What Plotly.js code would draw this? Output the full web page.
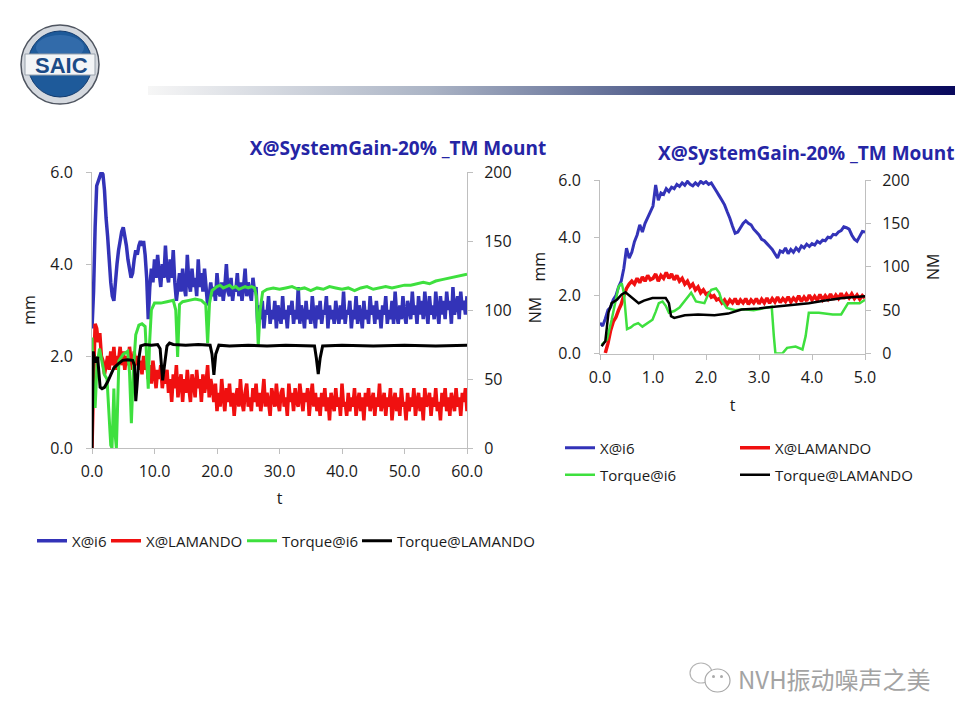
<!DOCTYPE html>
<html>
<head>
<meta charset="utf-8">
<script src="https://cdn.plot.ly/plotly-3.0.1.min.js"></script>
<style>html,body{margin:0;padding:0;background:#fff;}#chart{width:960px;height:720px;}</style>
</head>
<body>
<div id="chart"></div>
<script>
// ---------- DATA ----------
const seriesNames = ['X@i6', 'X@LAMANDO', 'Torque@i6', 'Torque@LAMANDO'];
const chartTitle = 'X@SystemGain-20% _TM Mount';
const watermarkText = 'NVH振动噪声之美';
const logoText = 'SAIC';

const leftTTicks = [0, 10, 20, 30, 40, 50, 60];
const rightTTicks = [0, 1, 2, 3, 4, 5];
const mmTicks = [0, 2, 4, 6];
const nmTicks = [0, 50, 100, 150, 200];

// Left chart: sampled every 0.25 s from t = 0
const leftSampleStart = 0;
const leftSampleStep = 0.25;
const leftXi6 = [
 2.6,3.4,4.8,5.7,5.8,5.9,6.0,5.95,5.6,5.0,4.6,4.1,3.6,3.3,3.2,3.6,4.0,4.3,4.5,4.7,
 4.8,4.6,4.4,4.1,3.9,3.7,3.8,4.1,4.3,4.2,4.4,4.5,4.4,4.5,4.2,3.7,2.8,3.5,
 3.9,3.6,4.1,3.7,4.2,3.8,3.5,4.0,3.7,4.4,3.8,3.6,4.1,3.7,4.3,3.6,
 3.2,3.5,3.8,3.4,3.9,3.5,3.3,4.2,3.6,3.4,3.9,3.5,3.7,3.3,4.1,3.5,3.8,3.4,3.9,3.5,
 3.1,3.3,
 3.6,3.3,3.5,3.2,3.8,3.4,3.3,3.6,3.2,3.5,4.0,3.4,3.3,3.7,3.2,3.5,3.4,3.8,3.3,3.6,
 3.2,3.5,3.9,3.3,3.6,3.4,3.2,3.7,3.4,3.5,
 2.7,3.1,2.8,3.2,2.6,3.0,2.9,3.3,2.7,3.0,
 2.8,3.2,2.6,3.1,2.9,2.7,3.3,2.8,3.0,2.6,
 3.1,2.9,3.2,2.7,3.0,2.8,3.5,2.7,3.1,2.9,
 2.6,3.2,2.8,3.0,2.7,3.3,2.9,2.6,3.1,2.8,
 3.2,2.7,3.0,2.9,3.3,2.6,3.1,2.8,3.0,2.7,
 3.2,2.9,2.7,3.1,2.8,3.4,2.7,3.0,2.9,3.2,
 2.6,3.0,2.8,3.3,2.7,3.1,2.9,2.6,3.2,2.8,
 3.0,2.7,3.3,2.9,3.1,2.7,3.2,2.8,3.0,2.6,
 3.1,2.9,3.3,2.7,3.0,2.8,3.2,2.7,3.4,2.9,
 2.7,3.1,2.8,3.3,2.9,2.7,3.2,3.0,2.8,3.4,
 2.9,3.1,2.7,3.3,2.9,3.2,2.8,3.4,3.0,2.7,
 3.3,2.9,3.1,2.8,3.4,3.0,2.7,3.3,2.9,3.2,
 2.8,3.4,3.0,3.2,2.7,3.5,2.9,3.1,3.3,2.8,
 3.4,3.0,3.2,2.9,3.3
];
const leftXLamando = [
 0.0,1.5,2.7,2.6,2.3,2.5,2.0,1.9,1.6,1.8,
 2.0,1.7,2.1,1.8,2.2,1.7,2.0,1.9,2.2,1.8,
 2.1,1.7,2.0,1.8,2.2,1.9,1.7,2.1,1.8,2.0,
 1.7,1.9,1.6,2.0,1.7,1.9,
 1.5,1.8,1.4,1.9,1.6,1.3,1.7,1.5,1.8,1.3,1.6,1.4,
 1.7,1.2,1.5,1.0,1.6,1.3,1.8,1.1,1.4,1.6,1.0,1.5,1.2,1.7,1.3,1.0,1.6,1.4,1.1,1.7,
 1.3,1.5,1.0,1.6,1.2,1.4,1.8,1.1,1.5,1.3,
 1.0,1.4,0.8,1.2,0.9,1.5,1.1,0.8,1.3,1.0,
 1.4,0.9,1.2,0.7,1.1,1.3,0.9,1.5,1.0,0.8,
 1.2,1.4,0.9,1.1,0.8,1.3,1.0,1.4,0.9,1.2,
 0.8,1.1,1.5,0.9,1.2,1.0,0.7,1.3,1.1,0.9,
 1.4,1.0,0.8,1.2,1.3,0.9,1.1,0.7,1.4,1.0,
 1.2,0.8,1.3,1.0,0.9,1.4,1.1,0.8,1.2,1.0,
 1.3,0.7,1.1,1.4,0.9,1.2,0.8,1.1,
 0.7,1.2,0.9,1.3,0.8,1.1,0.6,1.2,1.0,0.8,
 1.3,0.9,1.1,0.7,1.4,0.9,1.0,0.7,1.2,0.8,
 1.1,0.9,1.3,0.7,1.0,1.2,0.8,1.1,0.6,1.2,
 0.9,1.3,0.8,1.0,1.2,0.7,1.1,0.9,1.4,0.8,
 1.0,1.2,0.7,1.1,0.9,1.3,0.6,1.0,1.2,0.8,
 1.1,0.7,1.3,0.9,1.0,0.6,1.2,0.8,1.1,0.9,
 1.3,0.7,1.0,1.2,0.8,1.1,0.6,1.3,0.9,1.0,
 1.2,0.7,1.1,0.9,1.3,0.8,1.0,0.6,1.2,0.9,
 1.3,0.8,1.1,0.7,1.2,1.0,0.8,1.3,0.9,1.1,
 0.7,1.2,1.0,1.3,0.8
];
const leftTorqueI6T = [0,0.2,0.5,0.8,1.2,1.6,2.0,2.4,2.8,3.0,3.2,3.5,3.7,3.9,4.3,5.0,5.7,6.0,6.3,6.6,
 7.0,7.5,8.0,8.5,8.8,9.0,9.2,9.5,10.0,11.0,12.0,13.0,13.4,13.7,14.0,14.5,15.5,16.5,17.5,18.2,
 18.5,18.8,19.2,20.0,20.5,21.0,21.5,22.0,22.5,23.0,23.5,24.0,24.5,25.0,25.5,26.0,26.3,26.6,26.9,27.3,
 28,29,30,31,32,33,34,35,36,37,38,39,40,41,42,43,44,45,46,47,48,49,50,51,52,53,54,55,56,57,58,59,60];
const leftTorqueI6 = [80,45,29,60,72,62,53,50,20,2,0,43,10,0,63,68,70,55,18,55,
 82,89,90,88,60,43,75,100,105,105,106,107,100,66,104,106,107,108,107,104,
 76,105,114,117,118,116,117,118,116,117,115,116,117,116,117,116,110,74,100,113,
 115,116,115,116,117,115,116,114,116,115,117,116,115,116,114,116,117,115,116,117,
 116,117,118,118,119,120,119,121,122,123,124,125,126];
const leftTorqueLamT = [0,0.1,0.2,0.5,0.9,1.1,1.3,1.6,2.0,2.5,3.0,3.5,4.2,4.9,5.7,6.5,6.8,7.0,7.2,7.5,
 7.8,8.5,9.5,10.5,10.9,11.3,11.6,12.0,12.4,13.0,15,17,18.9,19.2,19.5,19.8,20.3,22,25,28,
 31,34,35.6,35.9,36.2,36.5,36.9,40,45,50,55,60];
const leftTorqueLam = [0,40,70,62,66,55,44,43,44,48,53,58,61,63.5,64,63.5,60,34,45,65,
 74,75,74.5,75,72,49,60,74,76,75,74.5,75,74.5,68,53,68,74.5,74,74.5,74,
 74.5,74,74,65,53.5,65,74,74.5,74,74.5,74,74.5];

// Right chart (zoom 0-5 s): X series sampled every 0.05 s
const rightXi6Start = 0;
const rightXi6Step = 0.05;
const rightXi6 = [1.06,0.95,1.2,1.5,1.6,1.86,2.0,2.3,2.5,2.95,
 3.64,3.3,3.5,3.87,4.1,4.45,4.2,4.5,4.7,4.9,
 5.1,5.83,5.3,5.55,5.5,5.7,5.6,5.75,5.7,5.85,
 5.78,5.9,5.82,5.95,5.85,5.8,5.9,5.82,5.95,5.88,
 5.94,5.85,5.9,5.75,5.6,5.45,5.3,5.14,4.9,4.68,
 4.4,4.16,4.2,4.35,4.5,4.59,4.5,4.45,4.3,4.2,
 4.1,3.95,3.9,3.8,3.7,3.6,3.45,3.3,3.55,3.5,
 3.65,3.45,3.6,3.5,3.65,3.55,3.72,3.65,3.78,3.7,
 3.8,3.75,3.88,3.82,3.92,3.9,4.02,4.0,4.12,4.1,
 4.2,4.25,4.38,4.35,4.3,4.1,3.95,3.88,4.05,4.22,
 4.2];
const rightXLamStart = 0.1;
const rightXLamStep = 0.05;
const rightXLamando = [0.02,0.35,0.8,1.1,1.25,1.5,1.7,2.0,2.25,2.4,
 2.5,2.4,2.6,2.45,2.65,2.5,2.7,2.55,2.6,2.75,
 2.5,2.7,2.6,2.8,2.6,2.75,2.55,2.7,2.5,2.6,
 2.4,2.5,2.3,2.4,2.2,2.3,2.1,2.2,2.05,2.1,
 1.95,2.0,1.85,1.9,1.75,1.85,1.7,1.85,1.75,1.9,
 1.7,1.85,1.75,1.9,1.7,1.85,1.75,1.9,1.72,1.88,
 1.75,1.92,1.74,1.9,1.78,1.95,1.76,1.9,1.8,1.96,
 1.78,1.92,1.82,2.0,1.8,1.95,1.82,2.02,1.85,1.98,
 1.84,2.04,1.86,2.0,1.88,2.06,1.87,2.02,1.9,2.08,
 1.9,2.05,1.92,2.06,1.9,2.02,1.88,2.0,1.92];
const rightTorqueI6T = [0.03,0.13,0.22,0.29,0.35,0.41,0.45,0.51,0.58,0.64,0.72,0.8,0.89,0.99,1.05,1.11,1.18,1.24,1.3,1.4,
 1.5,1.59,1.66,1.72,1.81,1.9,1.97,2.04,2.1,2.19,2.25,2.29,2.39,2.55,2.7,2.9,3.1,3.24,3.28,3.31,
 3.44,3.53,3.69,3.82,3.88,3.94,4.13,4.39,4.55,4.62,4.68,4.9,5.0];
const rightTorqueI6 = [10,16,39,58,77,81,70,28,30,33,35,31,35,39,48,58,60,55,47,49,
 53,60,65,70,60,59,58,68,73.5,75,70,62,52.5,50,51,50,52,54,20,0,
 0,6.5,8,4.6,20,47,47,45,45,52,58,58,62];
const rightTorqueLamT = [0.03,0.1,0.16,0.22,0.32,0.41,0.48,0.57,0.7,0.73,0.83,0.99,1.14,1.24,1.3,1.34,1.4,1.6,1.85,2.16,
 2.42,2.67,3.0,3.31,3.6,3.94,4.25,4.58,4.8,5.0];
const rightTorqueLam = [8.4,14,47,58,62,68,70.5,66,60,58,61,64,64,64,58,43,41,44,45,44,
 46,50.6,52,54,56,58,61,64,65,66];

// ---------- STYLE ----------
const colBlue = '#3333b8', colRed = '#f01010', colGreen = '#3ee03e', colBlack = '#000000';
const W = 960, H = 720;
const px = v => v / W;
const py = v => 1 - v / H;
const axisStyle = {showline: true, linecolor: '#bfbfbf', linewidth: 1, ticks: 'outside', ticklen: 5,
  tickcolor: '#bfbfbf', showgrid: false, zeroline: false, fixedrange: true, automargin: false,
  tickfont: {size: 16, color: '#1a1a1a'}};
const axTitleFont = {size: 16, color: '#1a1a1a'};

const traces = [
  {type: 'scatter', mode: 'lines', name: seriesNames[0], x0: leftSampleStart, dx: leftSampleStep, y: leftXi6,
   xaxis: 'x', yaxis: 'y', line: {color: colBlue, width: 3.5, simplify: false}, legend: 'legend'},
  {type: 'scatter', mode: 'lines', name: seriesNames[1], x0: leftSampleStart, dx: leftSampleStep, y: leftXLamando,
   xaxis: 'x', yaxis: 'y', line: {color: colRed, width: 3.5, simplify: false}, legend: 'legend4'},
  {type: 'scatter', mode: 'lines', name: seriesNames[2], x: leftTorqueI6T, y: leftTorqueI6,
   xaxis: 'x', yaxis: 'y2', line: {color: colGreen, width: 3}, legend: 'legend5'},
  {type: 'scatter', mode: 'lines', name: seriesNames[3], x: leftTorqueLamT, y: leftTorqueLam,
   xaxis: 'x', yaxis: 'y2', line: {color: colBlack, width: 3}, legend: 'legend6'},

  {type: 'scatter', mode: 'lines', name: seriesNames[0], x0: rightXi6Start, dx: rightXi6Step, y: rightXi6,
   xaxis: 'x2', yaxis: 'y3', line: {color: colBlue, width: 3, simplify: false}, legend: 'legend2'},
  {type: 'scatter', mode: 'lines', name: seriesNames[1], x0: rightXLamStart, dx: rightXLamStep, y: rightXLamando,
   xaxis: 'x2', yaxis: 'y3', line: {color: colRed, width: 3.5, simplify: false}, legend: 'legend3'},
  {type: 'scatter', mode: 'lines', name: seriesNames[2], x: rightTorqueI6T, y: rightTorqueI6,
   xaxis: 'x2', yaxis: 'y4', line: {color: colGreen, width: 2.5}, legend: 'legend7'},
  {type: 'scatter', mode: 'lines', name: seriesNames[3], x: rightTorqueLamT, y: rightTorqueLam,
   xaxis: 'x2', yaxis: 'y4', line: {color: colBlack, width: 2.5}, legend: 'legend8'}
];

const gradSvg = '<svg xmlns="http://www.w3.org/2000/svg" width="800" height="10" preserveAspectRatio="none">' +
  '<defs><linearGradient id="g" x1="0" x2="1" y1="0" y2="0">' +
  '<stop offset="0" stop-color="#f6f6f6"/><stop offset="0.35" stop-color="#abb4c5"/>' +
  '<stop offset="0.65" stop-color="#4b5888"/><stop offset="1" stop-color="#08085c"/>' +
  '</linearGradient></defs><rect width="800" height="10" fill="url(#g)"/></svg>';

const legendFont = {size: 15, color: '#1a1a1a'};
const legendBase = {orientation: 'h', xanchor: 'left', yanchor: 'middle', font: legendFont,
  bgcolor: 'rgba(0,0,0,0)', borderwidth: 0};

const layout = {
  width: W, height: H, margin: {l: 0, r: 0, t: 0, b: 0},
  paper_bgcolor: '#ffffff', plot_bgcolor: 'rgba(0,0,0,0)',
  font: {family: '"Open Sans", "Noto Sans", sans-serif', size: 16, color: '#1a1a1a'},
  showlegend: true,
  title: {text: chartTitle, xref: 'paper', yref: 'paper', x: px(398), y: py(148), xanchor: 'center', yanchor: 'middle',
    font: {size: 19, weight: 700, color: '#2525a5'}},
  xaxis: Object.assign({}, axisStyle, {domain: [px(92), px(467)], range: [0, 60], tickvals: leftTTicks,
    tickformat: '.1f', anchor: 'y', ticklabelstandoff: 4, title: {text: 't', font: axTitleFont, standoff: 11}}),
  yaxis: Object.assign({}, axisStyle, {domain: [py(448), py(172)], range: [0, 6], tickvals: mmTicks,
    tickformat: '.1f', anchor: 'x', ticklabelstandoff: 10, title: {text: 'mm', font: axTitleFont, standoff: 10}}),
  yaxis2: Object.assign({}, axisStyle, {domain: [py(448), py(172)], range: [0, 200], tickvals: nmTicks,
    overlaying: 'y', side: 'right', anchor: 'x', ticklabelstandoff: 8, title: {text: 'NM', font: axTitleFont, standoff: 19}}),
  xaxis2: Object.assign({}, axisStyle, {domain: [px(600), px(865)], range: [0, 5], tickvals: rightTTicks,
    tickformat: '.1f', anchor: 'y3', ticklabelstandoff: 4, title: {text: 't', font: axTitleFont, standoff: 13}}),
  yaxis3: Object.assign({}, axisStyle, {domain: [py(353.5), py(180)], range: [0, 6], tickvals: mmTicks,
    tickformat: '.1f', anchor: 'x2', ticklabelstandoff: 10, title: {text: 'mm', font: axTitleFont, standoff: 8}}),
  yaxis4: Object.assign({}, axisStyle, {domain: [py(353.5), py(180)], range: [0, 200], tickvals: nmTicks,
    overlaying: 'y3', side: 'right', anchor: 'x2', ticklabelstandoff: 8, title: {text: 'NM', font: axTitleFont, standoff: 19}}),
  legend: Object.assign({}, legendBase, {x: px(32), y: py(541)}),
  legend4: Object.assign({}, legendBase, {x: px(106), y: py(541)}),
  legend5: Object.assign({}, legendBase, {x: px(242), y: py(541)}),
  legend6: Object.assign({}, legendBase, {x: px(357), y: py(541)}),
  legend2: Object.assign({}, legendBase, {x: px(560), y: py(448)}),
  legend3: Object.assign({}, legendBase, {x: px(735), y: py(448)}),
  legend7: Object.assign({}, legendBase, {x: px(560), y: py(475)}),
  legend8: Object.assign({}, legendBase, {x: px(735), y: py(475)}),
  images: [{source: 'data:image/svg+xml;charset=utf-8,' + encodeURIComponent(gradSvg), xref: 'paper', yref: 'paper',
    x: px(148), y: py(86), sizex: px(955) - px(148), sizey: 9 / H, sizing: 'stretch', xanchor: 'left', yanchor: 'top', layer: 'below'}],
  shapes: [
    // SAIC logo
    {type: 'circle', xref: 'paper', yref: 'paper', x0: px(21), x1: px(99), y0: py(104), y1: py(25),
     fillcolor: '#d5d9df', line: {color: '#4f5560', width: 1.5}},
    {type: 'circle', xref: 'paper', yref: 'paper', x0: px(28), x1: px(92), y0: py(97), y1: py(31),
     fillcolor: '#1e5a9a', line: {color: '#113a6e', width: 1}},
    {type: 'circle', xref: 'paper', yref: 'paper', x0: px(36), x1: px(84), y0: py(60), y1: py(35),
     fillcolor: 'rgba(90,140,200,0.35)', line: {width: 0}},
    {type: 'rect', xref: 'paper', yref: 'paper', x0: px(25), x1: px(95), y0: py(75), y1: py(54),
     fillcolor: '#f3f5f7', line: {color: '#9aa3ad', width: 1}},
    // WeChat-style watermark icon
    {type: 'circle', xref: 'paper', yref: 'paper', x0: px(690), x1: px(712), y0: py(683), y1: py(663),
     fillcolor: '#ffffff', line: {color: '#b5b5b5', width: 1.2}},
    {type: 'circle', xref: 'paper', yref: 'paper', x0: px(705), x1: px(730), y0: py(692), y1: py(669),
     fillcolor: '#ffffff', line: {color: '#a8a8a8', width: 1.2}},
    {type: 'circle', xref: 'paper', yref: 'paper', x0: px(712), x1: px(715), y0: py(678), y1: py(675),
     fillcolor: '#aaaaaa', line: {width: 0}},
    {type: 'circle', xref: 'paper', yref: 'paper', x0: px(720), x1: px(723), y0: py(678), y1: py(675),
     fillcolor: '#aaaaaa', line: {width: 0}}
  ],
  annotations: [
    {text: chartTitle, xref: 'paper', yref: 'paper', x: px(806), y: py(153), xanchor: 'center', yanchor: 'middle',
     showarrow: false, font: {size: 19, weight: 700, color: '#2525a5'}},
    {text: logoText, xref: 'paper', yref: 'paper', x: px(61), y: py(65), xanchor: 'center', yanchor: 'middle',
     showarrow: false, font: {family: '"Liberation Sans", Arial, sans-serif', size: 22, weight: 700, color: '#1b4a86'}},
    {text: watermarkText, xref: 'paper', yref: 'paper', x: px(736), y: py(678), xanchor: 'left', yanchor: 'middle',
     showarrow: false, font: {family: '"Noto Sans CJK SC", sans-serif', size: 24, color: '#a3a3a3'}}
  ]
};

Plotly.newPlot('chart', traces, layout, {staticPlot: true, displayModeBar: false});
</script>
</body>
</html>
